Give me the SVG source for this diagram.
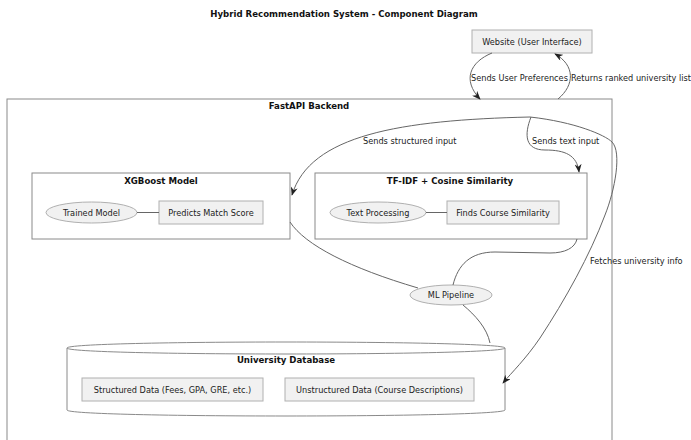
<svg xmlns="http://www.w3.org/2000/svg" width="691" height="440" viewBox="0 0 691 440">
<defs>
<style>
text{font-family:"DejaVu Sans",Verdana,sans-serif;fill:#222;}
.t{font-size:8.2px;}
.b{font-size:8.6px;font-weight:bold;text-anchor:middle;fill:#111;}
.m{text-anchor:middle;}
.box{fill:#f1f1f1;stroke:#b0b0b0;stroke-width:1;}
.cont{fill:#fff;stroke:#8a8a8a;stroke-width:1;}
.link{fill:none;stroke:#666;stroke-width:1;}
.arr{fill:none;stroke:#666;stroke-width:1;marker-end:url(#ah);}
</style>
<marker id="ah" viewBox="0 0 10 8" refX="9" refY="4" markerWidth="9" markerHeight="7" markerUnits="userSpaceOnUse" orient="auto">
<path d="M0,0 L10,4 L0,8 L3,4 z" fill="#222"/>
</marker>
</defs>
<rect width="691" height="440" fill="#fff"/>
<text class="b" x="344" y="17">Hybrid Recommendation System - Component Diagram</text>

<g id="backend">
<rect class="cont" x="7" y="99" width="605" height="350"/>
<text class="b" x="309" y="109">FastAPI Backend</text>
</g>

<g id="website">
<rect class="box" x="472" y="30" width="120" height="23"/>
<text class="t m" x="532" y="44.5">Website (User Interface)</text>
</g>

<g id="xgboost">
<rect class="cont" x="32" y="173" width="258" height="66"/>
<text class="b" x="161" y="184">XGBoost Model</text>
<g id="trained">
<ellipse class="box" cx="91.5" cy="212.5" rx="45.5" ry="10.5"/>
<text class="t m" x="91.5" y="215.5">Trained Model</text>
</g>
<g id="predicts">
<rect class="box" x="159" y="201" width="104" height="23"/>
<text class="t m" x="211" y="215.5">Predicts Match Score</text>
</g>
</g>

<g id="tfidf">
<rect class="cont" x="315" y="173" width="272" height="66"/>
<text class="b" x="450" y="184">TF-IDF + Cosine Similarity</text>
<g id="textproc">
<ellipse class="box" cx="378" cy="212.5" rx="48" ry="10.5"/>
<text class="t m" x="378" y="215.5">Text Processing</text>
</g>
<g id="finds">
<rect class="box" x="447" y="201" width="112" height="23"/>
<text class="t m" x="503" y="215.5">Finds Course Similarity</text>
</g>
</g>

<g id="mlpipeline">
<ellipse class="box" cx="451" cy="295" rx="41" ry="10"/>
<text class="t m" x="451" y="298">ML Pipeline</text>
</g>

<g id="database">
<path class="cont" d="M67,348 C67,340 505,340 505,348 L505,410 C505,418 67,418 67,410 Z"/>
<path class="link" style="stroke:#8a8a8a" d="M67,348 C67,356 505,356 505,348"/>
<text class="b" x="286" y="363">University Database</text>
<g id="structured">
<rect class="box" x="82" y="378" width="181" height="23"/>
<text class="t m" x="172.5" y="392.5">Structured Data (Fees, GPA, GRE, etc.)</text>
</g>
<g id="unstructured">
<rect class="box" x="285" y="378" width="189" height="23"/>
<text class="t m" x="379.5" y="392.5">Unstructured Data (Course Descriptions)</text>
</g>
</g>

<g id="connectors">
<line class="link" x1="137" y1="212.5" x2="159" y2="212.5"/>
<line class="link" x1="426" y1="212.5" x2="447" y2="212.5"/>
<path class="arr" d="M492,53 C470,62 462,80 480,99"/>
<path class="arr" d="M558,99 C575,85 575,65 555,54"/>
<path class="arr" d="M530,117 C400,120 310,135 292,195"/>
<path class="arr" d="M531,117 C524,135 525,150 545,150 C565,150 577,155 579,172"/>
<path class="arr" d="M530,117 C575,122 605,135 612,142 C622,152 615,190 605,215 C590,255 565,300 540,338 C525,360 512,372 503,383"/>
<path class="link" d="M290,222 C305,245 350,268 418,288"/>
<path class="link" d="M453,285 C458,265 470,252 495,252 L550,253 C565,253 575,248 577,239"/>
<path class="link" d="M463,305 C475,315 487,328 490,343"/>
<text class="t" x="471" y="81">Sends User Preferences</text>
<text class="t" x="571" y="81">Returns ranked university list</text>
<text class="t" x="363" y="144">Sends structured input</text>
<text class="t" x="532" y="144">Sends text input</text>
<text class="t" x="590" y="264">Fetches university info</text>
</g>
</svg>
